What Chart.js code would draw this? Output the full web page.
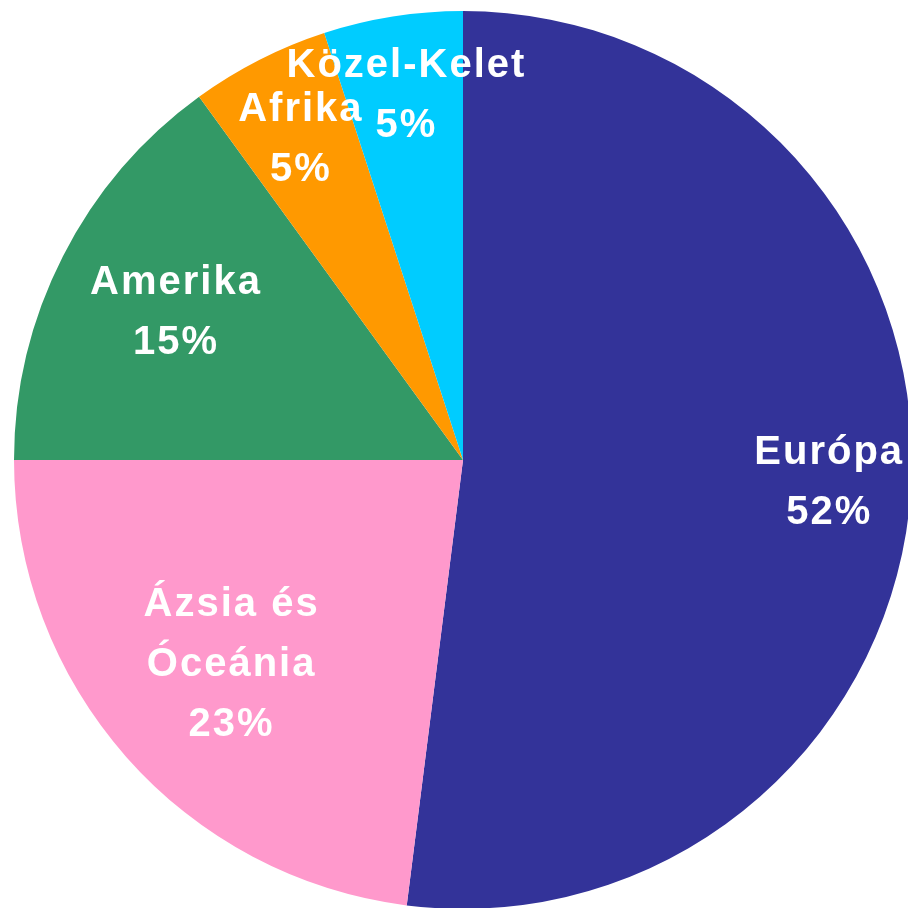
<!DOCTYPE html>
<html>
<head>
<meta charset="utf-8">
<script src="https://cdn.jsdelivr.net/npm/chart.js@4.4.1/dist/chart.umd.min.js"></script>
<style>
    html, body { margin: 0; padding: 0; background: #fff; overflow: hidden; }
    #wrap { position: absolute; left: 0; top: 0; width: 926px; height: 920px; }
</style>
</head>
<body>
<div id="wrap"><canvas id="pie"></canvas></div>
<script>
const categories = [['Európa'], ['Ázsia és', 'Óceánia'], ['Amerika'], ['Afrika'], ['Közel-Kelet']];
const values = [52, 23, 15, 5, 5];
const colors = ['#333399', '#FF99CC', '#339966', '#FF9900', '#00CCFF'];

// how far out (fraction of radius) each label sits
const labelRadius = [0.815, 0.69, 0.72, 0.8, 0.82];

const sliceLabels = {
    id: 'sliceLabels',
    afterDatasetsDraw(chart) {
        const ctx = chart.ctx;
        const arcs = chart.getDatasetMeta(0).data;
        ctx.save();
        ctx.fillStyle = '#ffffff';
        ctx.font = 'bold 40px "Liberation Sans", Arial, sans-serif';
        ctx.letterSpacing = '2px';
        ctx.textAlign = 'center';
        ctx.textBaseline = 'middle';
        arcs.forEach((arc, i) => {
            const p = arc.getProps(['x', 'y', 'startAngle', 'endAngle', 'outerRadius'], true);
            const mid = (p.startAngle + p.endAngle) / 2;
            const r = p.outerRadius * labelRadius[i];
            const cx = p.x + Math.cos(mid) * r;
            const cy = p.y + Math.sin(mid) * r;
            const lines = categories[i].concat([values[i] + '%']);
            const lh = 60;
            lines.forEach((t, j) => {
                ctx.fillText(t, cx + 1, cy + (j - (lines.length - 1) / 2) * lh);
            });
        });
        ctx.restore();
    }
};

const ctx = document.getElementById('pie').getContext('2d');
const chart = new Chart(ctx, {
    type: 'pie',
    data: {
        labels: categories.map(c => c.join(' ')),
        datasets: [{
            data: values,
            backgroundColor: colors,
            borderWidth: 0
        }]
    },
    options: {
        responsive: true,
        maintainAspectRatio: false,
        animation: false,
        layout: { padding: 11 },
        plugins: {
            legend: { display: false },
            tooltip: { enabled: false }
        }
    },
    plugins: [sliceLabels]
});
</script>
</body>
</html>
